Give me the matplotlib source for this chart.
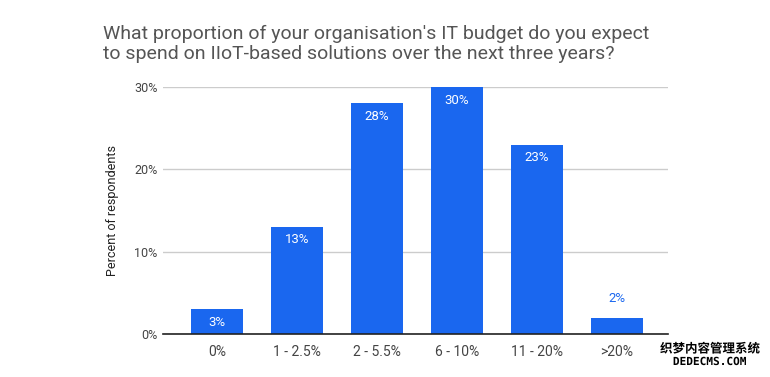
import matplotlib
matplotlib.use("Agg")
import matplotlib.pyplot as plt
import matplotlib.patheffects as pe

categories = ["0%", "1 - 2.5%", "2 - 5.5%", "6 - 10%", "11 - 20%", ">20%"]
values = [3, 13, 28, 30, 23, 2]
labels = ["3%", "13%", "28%", "30%", "23%", "2%"]
yticks = [0, 10, 20, 30]
yticklabels = ["0%", "10%", "20%", "30%"]

plt.rcParams['font.family'] = ['Roboto', 'DejaVu Sans']
W, H = 770, 377
fig = plt.figure(figsize=(W/100, H/100), dpi=100)
ax = fig.add_axes([163/W, 1-334/H, (668-163)/W, (334-87)/H])

blue = "#1a67ef"
x = list(range(len(categories)))
bars = ax.bar(x, values, width=0.65, color=blue, zorder=3)
ax.set_xlim(-0.675, 5.6375)
ax.set_ylim(0, 30)
ax.set_yticks(yticks)
ax.set_yticklabels(yticklabels)
ax.set_xticks(x)
ax.set_xticklabels(categories)
ax.tick_params(axis='both', length=0, colors="#444444")
ax.tick_params(axis='x', pad=8, labelsize=10)
ax.tick_params(axis='y', pad=4, labelsize=9)
ax.grid(axis='y', color="#cccccc", linewidth=1, zorder=0)
for s in ["top", "right", "left"]:
    ax.spines[s].set_visible(False)
ax.spines["bottom"].set_color("#222222")
ax.spines["bottom"].set_linewidth(1.2)
ax.spines["bottom"].set_zorder(4)

for xi, v, lab in zip(x, values, labels):
    if v >= 3:
        ax.annotate(lab, (xi, v), xytext=(0, -13), textcoords="offset pixels",
                    ha="center", va="center", color="white", fontsize=9.5, zorder=5)
    else:
        ax.annotate(lab, (xi, v), xytext=(0, 19), textcoords="offset pixels",
                    ha="center", va="center", color=blue, fontsize=9.5, zorder=5)

ax.set_ylabel("Percent of respondents", fontsize=9, color="#222222", labelpad=11)

fig.text(103/W, 1-44/H, "What proportion of your organisation's IT budget do you expect\nto spend on IIoT-based solutions over the next three years?",
         fontsize=14, color="#555555", ha="left", va="center", linespacing=1.2)

wm_fx = [pe.withStroke(linewidth=2.5, foreground="white")]
fig.text(710/W, 1-349/H, "织梦内容管理系统", fontsize=9, fontweight="bold", color="black",
         family=['Noto Sans CJK SC', 'DejaVu Sans'], ha="center", va="center", path_effects=wm_fx)
fig.text(710/W, 1-362/H, "DEDECMS.COM", fontsize=8, fontweight="bold", color="black",
         family=['DejaVu Sans Mono', 'DejaVu Sans'], ha="center", va="center", path_effects=wm_fx)

fig.savefig("out.png", dpi=100)
